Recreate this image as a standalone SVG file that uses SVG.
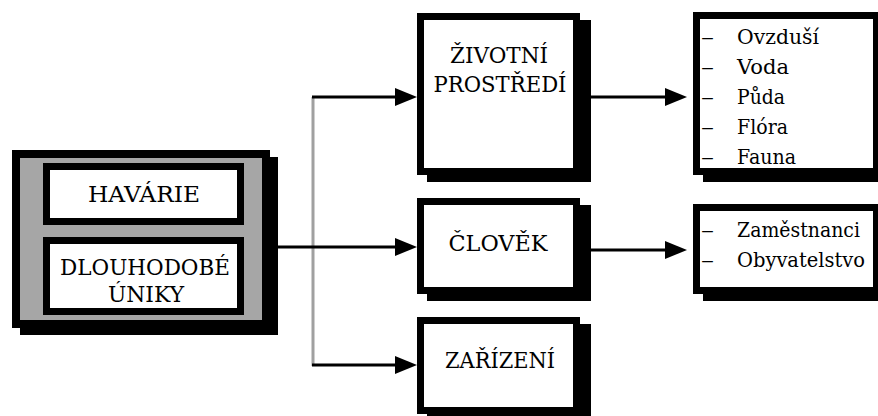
<svg xmlns="http://www.w3.org/2000/svg" width="878" height="416" viewBox="0 0 878 416">
<style>
  .bg { fill: #ffffff; }
  .shadow { fill: #000000; }
  .frame { fill: #ffffff; stroke: #000000; stroke-width: 7; }
  .outer { fill: #a6a6a6; stroke: #000000; stroke-width: 8; }
  text { font-family: "DejaVu Serif", serif; font-size: 22px; fill: #000000; }
  .item { font-size: 20px; }
  .c { text-anchor: middle; }
  .line { fill: none; stroke: #000000; stroke-width: 3; }
  .gray { fill: none; stroke: #a0a0a0; stroke-width: 3; }
</style>
<defs>
  <marker id="arrow" markerUnits="userSpaceOnUse" markerWidth="22" markerHeight="18" refX="10" refY="9" orient="auto">
    <path d="M0,0 L22,9 L0,18 Z" fill="#000000"/>
  </marker>
</defs>
<rect class="bg" x="0" y="0" width="878" height="416"/>

<g id="connectors">
  <path class="gray" d="M313,97 V366"/>
  <path class="line" d="M278,247 H405" marker-end="url(#arrow)"/>
  <path class="line" d="M312,97 H405" marker-end="url(#arrow)"/>
  <path class="line" d="M312,365 H405" marker-end="url(#arrow)"/>
  <path class="line" d="M591,97 H675" marker-end="url(#arrow)"/>
  <path class="line" d="M591,250 H675" marker-end="url(#arrow)"/>
</g>

<g id="source">
  <rect class="shadow" x="20" y="157" width="258" height="178"/>
  <rect class="outer" x="16" y="154" width="250" height="170"/>
  <g id="havarie">
    <rect class="frame" x="46.5" y="166.5" width="194" height="55"/>
    <text class="c" x="144" y="202" textLength="112" lengthAdjust="spacingAndGlyphs">HAVÁRIE</text>
  </g>
  <g id="uniky">
    <rect class="frame" x="46.5" y="240.5" width="194" height="71"/>
    <text class="c" x="145" y="275" textLength="170" lengthAdjust="spacingAndGlyphs">DLOUHODOBÉ</text>
    <text class="c" x="146" y="302" textLength="76" lengthAdjust="spacingAndGlyphs">ÚNIKY</text>
  </g>
</g>

<g id="zivotni-prostredi">
  <rect class="shadow" x="427" y="20" width="164" height="162"/>
  <rect class="frame" x="420.5" y="16.5" width="156" height="155"/>
  <text class="c" x="499" y="63" textLength="98" lengthAdjust="spacingAndGlyphs">ŽIVOTNÍ</text>
  <text class="c" x="500" y="92" textLength="133" lengthAdjust="spacingAndGlyphs">PROSTŘEDÍ</text>
</g>

<g id="clovek">
  <rect class="shadow" x="427" y="205" width="164" height="96"/>
  <rect class="frame" x="420.5" y="201.5" width="156" height="89"/>
  <text class="c" x="498" y="251" textLength="99" lengthAdjust="spacingAndGlyphs">ČLOVĚK</text>
</g>

<g id="zarizeni">
  <rect class="shadow" x="427" y="324" width="164" height="97"/>
  <rect class="frame" x="420.5" y="320.5" width="156" height="90"/>
  <text class="c" x="500" y="368" textLength="110" lengthAdjust="spacingAndGlyphs">ZAŘÍZENÍ</text>
</g>

<g id="slozky-prostredi">
  <rect class="shadow" x="703" y="19" width="187" height="163"/>
  <rect class="frame" x="696.5" y="15.5" width="180" height="156"/>
  <text class="item" x="701" y="44" textLength="13" lengthAdjust="spacingAndGlyphs">–</text><text class="item" x="737" y="44" textLength="82" lengthAdjust="spacingAndGlyphs">Ovzduší</text>
  <text class="item" x="701" y="74" textLength="13" lengthAdjust="spacingAndGlyphs">–</text><text class="item" x="737" y="74" textLength="52" lengthAdjust="spacingAndGlyphs">Voda</text>
  <text class="item" x="701" y="104" textLength="13" lengthAdjust="spacingAndGlyphs">–</text><text class="item" x="737" y="104" textLength="48" lengthAdjust="spacingAndGlyphs">Půda</text>
  <text class="item" x="701" y="134" textLength="13" lengthAdjust="spacingAndGlyphs">–</text><text class="item" x="737" y="134" textLength="51" lengthAdjust="spacingAndGlyphs">Flóra</text>
  <text class="item" x="701" y="164" textLength="13" lengthAdjust="spacingAndGlyphs">–</text><text class="item" x="737" y="164" textLength="59" lengthAdjust="spacingAndGlyphs">Fauna</text>
</g>

<g id="skupiny-lidi">
  <rect class="shadow" x="703" y="211" width="187" height="90"/>
  <rect class="frame" x="696.5" y="207.5" width="180" height="83"/>
  <text class="item" x="701" y="237" textLength="13" lengthAdjust="spacingAndGlyphs">–</text><text class="item" x="737" y="237" textLength="123" lengthAdjust="spacingAndGlyphs">Zaměstnanci</text>
  <text class="item" x="701" y="267" textLength="13" lengthAdjust="spacingAndGlyphs">–</text><text class="item" x="737" y="267" textLength="128" lengthAdjust="spacingAndGlyphs">Obyvatelstvo</text>
</g>
</svg>
